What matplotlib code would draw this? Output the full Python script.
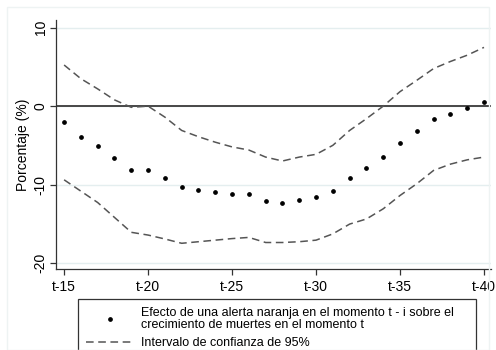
import matplotlib.pyplot as plt
from matplotlib.patches import Rectangle

plt.rcParams['font.family'] = ['Liberation Sans', 'DejaVu Sans']

lags = list(range(15, 41))
effect = [-2.05, -3.9, -5.1, -6.6, -8.2, -8.2, -9.2, -10.3, -10.7, -10.9,
          -11.15, -11.15, -12.05, -12.3, -11.96, -11.6, -10.8, -9.2, -7.95, -6.5,
          -4.65, -3.2, -1.67, -0.94, -0.2, 0.47]
upper = [5.25, 3.5, 2.2, 0.8, -0.15, 0.0, -1.4, -3.1, -3.9, -4.6,
         -5.2, -5.6, -6.5, -7.0, -6.5, -6.15, -5.0, -3.1, -1.6, 0.0,
         1.85, 3.3, 4.8, 5.7, 6.5, 7.5]
lower = [-9.4, -10.85, -12.3, -14.2, -16.1, -16.45, -16.95, -17.5, -17.3, -17.1,
         -16.9, -16.75, -17.4, -17.4, -17.3, -17.1, -16.3, -15.05, -14.4, -13.1,
         -11.4, -9.9, -8.2, -7.4, -6.85, -6.5]
xticks = [15, 20, 25, 30, 35, 40]
xticklabels = ['t-15', 't-20', 't-25', 't-30', 't-35', 't-40']
yticks = [-20, -10, 0, 10]

fig = plt.figure(figsize=(4.96, 3.5), dpi=100)
ax = fig.add_axes([0.113, 0.231, 0.877, 0.712])

for y in yticks:
    ax.axhline(y, color='#e4eeef', lw=1, zorder=0)
ax.axhline(0, color='#3a3a3a', lw=1.3, zorder=1)

ax.plot(lags, effect, 'o', color='black', ms=2.4, zorder=3,
        label='Efecto de una alerta naranja en el momento t - i sobre el    \n'
              'crecimiento de muertes en el momento t')
ax.plot(lags, upper, color='#555555', lw=1.1, dashes=(5, 3), zorder=2,
        label='Intervalo de confianza de 95%')
ax.plot(lags, lower, color='#555555', lw=1.1, dashes=(5, 3), zorder=2)

ax.set_xlim(14.52, 40.42)
ax.set_ylim(-20.8, 11.0)
ax.set_xticks(xticks)
ax.set_xticklabels(xticklabels)
ax.set_yticks(yticks)
ax.set_yticklabels([str(v) for v in yticks], rotation=90, va='center')
ax.tick_params(labelsize=10, length=4, width=0.9, color='#333333')
ax.tick_params(axis='y', pad=2)
ax.set_ylabel('Porcentaje (%)', fontsize=10)
ax.yaxis.set_label_coords(-0.06, 0.5)

for s in ['top', 'right']:
    ax.spines[s].set_visible(False)
for s in ['left', 'bottom']:
    ax.spines[s].set_color('#333333')
    ax.spines[s].set_linewidth(0.9)

leg = ax.legend(loc='upper left', bbox_to_anchor=(78 / 496, 1 - 299 / 350),
                bbox_transform=fig.transFigure, fontsize=9, frameon=True,
                fancybox=False, edgecolor='black', handlelength=3.8,
                borderpad=0.65, labelspacing=0.5, handletextpad=0.6,
                borderaxespad=0)
leg.get_frame().set_linewidth(0.9)
for t in leg.get_texts():
    t.set_linespacing(0.95)

fig.patches.append(Rectangle((7 / 496, 0), 1 - 14 / 496, 1 - 7 / 350,
                             transform=fig.transFigure, fill=False,
                             edgecolor='#eef3f3', lw=1))

fig.savefig('out.png', dpi=100)
